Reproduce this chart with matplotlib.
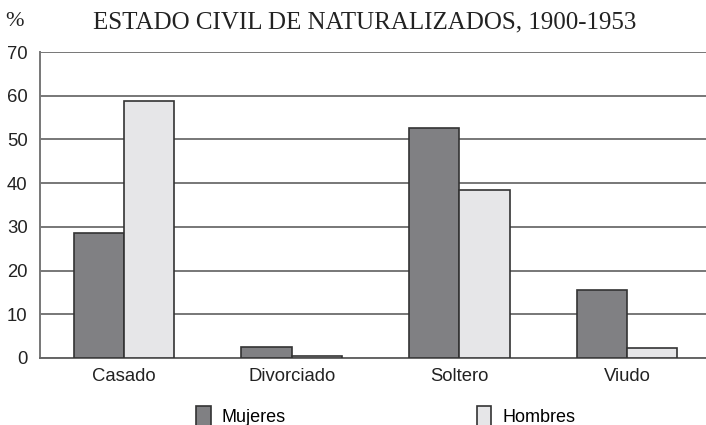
import matplotlib
matplotlib.use("Agg")
import matplotlib.pyplot as plt
import numpy as np
from matplotlib.patches import Patch

categories = ["Casado", "Divorciado", "Soltero", "Viudo"]
mujeres = [28.6, 2.6, 52.6, 15.6]
hombres = [58.7, 0.5, 38.5, 2.2]
yticks = [0, 10, 20, 30, 40, 50, 60, 70]

plt.rcParams['font.family'] = ['Liberation Sans', 'DejaVu Sans']

fig = plt.figure(figsize=(7.06, 4.25), dpi=100)
ax = fig.add_axes([40 / 706, 1 - 358 / 425, 671 / 706, 306 / 425])

x = np.arange(len(categories))
width = 0.3
ax.bar(x - width / 2, mujeres, width, color='#808083', edgecolor='#333333',
       linewidth=1.2, zorder=3, label='Mujeres')
ax.bar(x + width / 2, hombres, width, color='#e6e6e8', edgecolor='#333333',
       linewidth=1.2, zorder=3, label='Hombres')

ax.set_xlim(-0.5, 3.5)
ax.set_ylim(0, 70)
ax.set_yticks(yticks)
ax.set_xticks(x)
ax.set_xticklabels(categories)
ax.tick_params(length=0, labelsize=13.3, colors='#222222', pad=9)
ax.tick_params(axis='x', pad=7)
ax.yaxis.grid(True, color='#777777', linewidth=1.4, zorder=0)
ax.set_axisbelow(True)
for s in ['top', 'right']:
    ax.spines[s].set_visible(False)
ax.spines['left'].set_color('#777777')
ax.spines['left'].set_linewidth(1.4)
ax.spines['bottom'].set_color('#666666')
ax.spines['bottom'].set_linewidth(1.4)

fig.text(93 / 706, 1 - 22 / 425, "ESTADO CIVIL DE NATURALIZADOS, 1900-1953",
         family=['Liberation Serif'], fontsize=18, color='#222222', va='center')
fig.text(5 / 706, 1 - 21 / 425, "%", family=['Liberation Serif'], fontsize=16,
         color='#222222', va='center')

handles = [Patch(facecolor='#808083', edgecolor='#333333', linewidth=1.2),
           Patch(facecolor='#e6e6e8', edgecolor='#333333', linewidth=1.2)]
fig.legend(handles, ['Mujeres', 'Hombres'], loc='center left',
           bbox_to_anchor=(189 / 706, 1 - 416 / 425), ncol=2, frameon=False,
           fontsize=13, handlelength=0.8, handleheight=1.3,
           handletextpad=0.6, columnspacing=10.6, borderaxespad=0)

fig.savefig("out.png", dpi=100)
